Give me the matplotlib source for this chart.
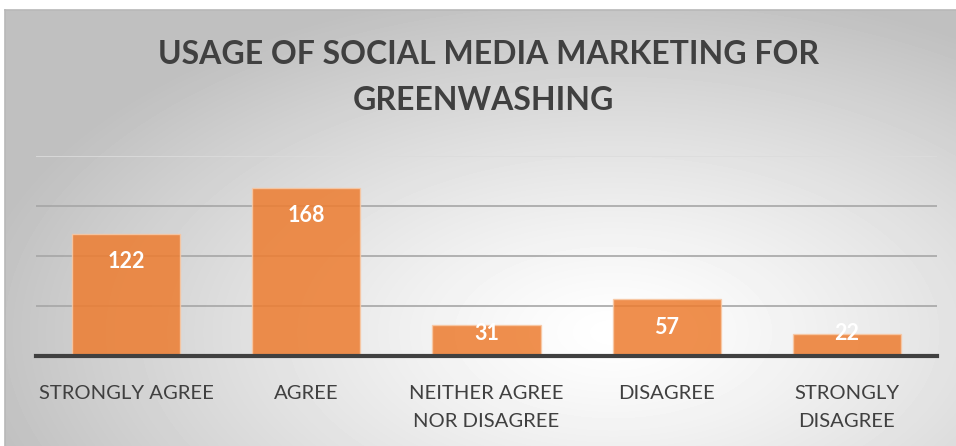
import numpy as np
import matplotlib
matplotlib.use("Agg")
import matplotlib.pyplot as plt

categories = ["STRONGLY AGREE", "AGREE", "NEITHER AGREE\nNOR DISAGREE", "DISAGREE", "STRONGLY\nDISAGREE"]
counts = [122, 168, 31, 57, 22]

W, H = 956, 446
fig = plt.figure(figsize=(W / 100, H / 100), dpi=100)
fig.patch.set_facecolor("white")

# chart area with a radial grey-to-white fill
x0, y0 = 5, 10
bg = fig.add_axes([x0 / W, 0, (W - x0) / W, (H - y0) / H])
bw, bh = W - x0, H - y0
xx, yy = np.meshgrid(np.linspace(0, 1, bw), np.linspace(0, 1, bh))
cx, cy = 0.64, 0.74
r = np.sqrt(((xx - cx) / 0.72) ** 2 + ((yy - cy) / 0.85) ** 2)
shade = 1.0 - 0.25 * np.clip(r / 0.95, 0, 1) ** 1.25
bg.imshow(shade, cmap="gray", vmin=0, vmax=1, aspect="auto", interpolation="bilinear")
bg.set_xticks([])
bg.set_yticks([])
for side in ["bottom", "right"]:
    bg.spines[side].set_visible(False)
for side in ["top", "left"]:
    bg.spines[side].set_color("#b8b8b8")
    bg.spines[side].set_linewidth(1.2)

# plot area
left, right, base, top = 36, 937, 356, 156
ax = fig.add_axes([left / W, (H - base) / H, (right - left) / W, (base - top) / H])
ax.patch.set_alpha(0)
x = np.arange(len(categories))
ax.bar(x, counts, width=0.6, color="#ed7d31", alpha=0.86, edgecolor="#f8c9a6", linewidth=1.0, zorder=3)
ax.set_xlim(-0.5, len(categories) - 0.5)
ax.set_ylim(0, 200)
for g in [50, 100, 150]:
    ax.axhline(g, color="#a6a6a6", linewidth=1.2, zorder=1)
ax.axhline(200, color="#dcdcdc", linewidth=1.2, zorder=1)
ax.set_yticks([])
ax.tick_params(axis="x", length=0, pad=21)
ax.set_xticks(x)
ax.set_xticklabels(categories, fontsize=14.6, color="#404040", family="Lato", linespacing=1.75)
for side in ["top", "left", "right"]:
    ax.spines[side].set_visible(False)
ax.spines["bottom"].set_color("#404040")
ax.spines["bottom"].set_linewidth(3)
ax.spines["bottom"].set_zorder(4)

# value labels sit inside the bar top, kept clear of the baseline for short bars
for xi, v in zip(x, counts):
    ax.text(xi, max(v - 28, 23), str(v), ha="center", va="center", color="white",
            fontsize=15.5, fontweight="bold", family="Lato", zorder=5)

fig.text(0.5 + x0 / W / 2 + 0.008, 1 - 55 / H, "USAGE OF SOCIAL MEDIA MARKETING FOR", ha="center", va="center",
         fontsize=23, fontweight="bold", color="#404040", family="Lato")
fig.text(0.5 + x0 / W / 2 + 0.003, 1 - 100 / H, "GREENWASHING", ha="center", va="center",
         fontsize=23, fontweight="bold", color="#404040", family="Lato")

fig.savefig("out.png", dpi=100)
